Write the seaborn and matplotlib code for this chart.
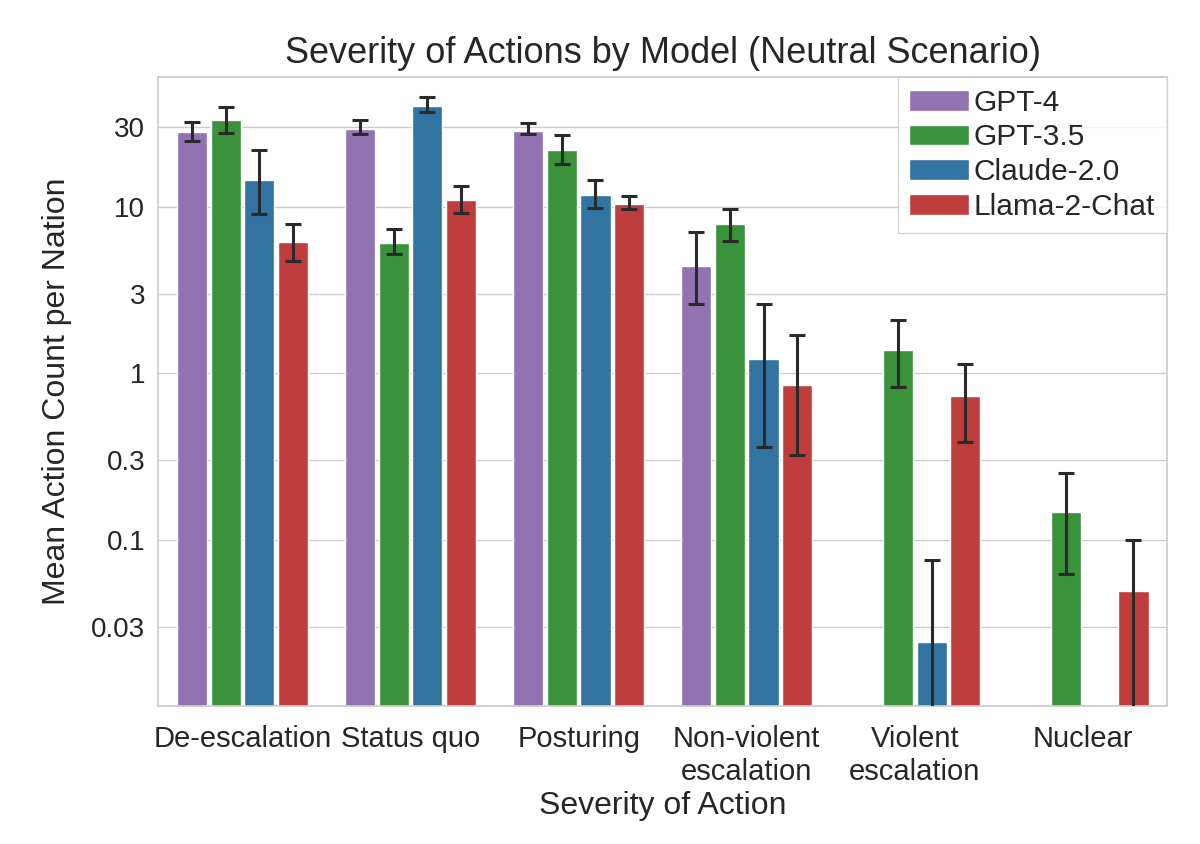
import numpy as np
import pandas as pd
import matplotlib
matplotlib.use("Agg")
import matplotlib.pyplot as plt
import seaborn as sns
from matplotlib.container import BarContainer
from matplotlib.ticker import FixedLocator, FixedFormatter, NullLocator

categories = ["De-escalation", "Status quo", "Posturing",
              "Non-violent\nescalation", "Violent\nescalation", "Nuclear"]
models = ["GPT-4", "GPT-3.5", "Claude-2.0", "Llama-2-Chat"]
colors = ["#9467bd", "#2ca02c", "#1f77b4", "#d62728"]

gpt4_mean = [28.0, 29.4, 28.5, 4.4, 0.0, 0.0]
gpt4_low = [24.8, 27.4, 27.1, 2.6, 0.0, 0.0]
gpt4_high = [32.2, 33.0, 31.9, 7.0, 0.0, 0.0]

gpt35_mean = [33.3, 6.05, 21.8, 7.8, 1.38, 0.147]
gpt35_low = [27.7, 5.2, 17.9, 6.25, 0.82, 0.062]
gpt35_high = [39.4, 7.3, 26.8, 9.7, 2.07, 0.252]

claude_mean = [14.4, 40.0, 11.8, 1.22, 0.0243, 0.0]
claude_low = [9.0, 37.0, 9.8, 0.36, 0.001, 0.0]
claude_high = [21.8, 45.5, 14.4, 2.6, 0.075, 0.0]

llama_mean = [6.1, 10.9, 10.4, 0.85, 0.73, 0.049]
llama_low = [4.7, 9.2, 9.7, 0.32, 0.385, 0.001]
llama_high = [7.8, 13.2, 11.5, 1.7, 1.13, 0.10]

ytick_values = [0.03, 0.1, 0.3, 1, 3, 10, 30]
ytick_labels = ["0.03", "0.1", "0.3", "1", "3", "10", "30"]

means = [gpt4_mean, gpt35_mean, claude_mean, llama_mean]
lows = [gpt4_low, gpt35_low, claude_low, llama_low]
highs = [gpt4_high, gpt35_high, claude_high, llama_high]

rows = []
for m, mv in zip(models, means):
    for c, v in zip(categories, mv):
        rows.append({"Severity of Action": c, "Model": m, "Mean": v})
df = pd.DataFrame(rows)

sns.set_theme(style="whitegrid")
plt.rcParams["font.family"] = ["Liberation Sans", "DejaVu Sans"]

fig = plt.figure(figsize=(12, 8.44), dpi=100)
ax = fig.add_axes([0.132, 0.1635, 0.8405, 0.7453])

sns.barplot(data=df, x="Severity of Action", y="Mean", hue="Model",
            order=categories, hue_order=models, palette=colors,
            errorbar=None, gap=0.1, ax=ax)
ax.set_yscale("log")

bar_containers = [c for c in ax.containers if isinstance(c, BarContainer)]
for k, cont in enumerate(bar_containers):
    for bar in list(cont):
        if bar is None:
            continue
        xc = bar.get_x() + bar.get_width() / 2
        j = int(round(xc))
        mv = means[k][j]
        if mv <= 0:
            continue
        ax.errorbar(xc, mv, yerr=[[mv - lows[k][j]], [highs[k][j] - mv]],
                    fmt="none", ecolor="#2a2a2a", elinewidth=2.2,
                    capsize=5.5, capthick=2.2, zorder=5)

ax.set_xlim(-0.5, len(categories) - 0.5)
ax.set_ylim(0.01, 60)
ax.yaxis.set_major_locator(FixedLocator(ytick_values))
ax.yaxis.set_major_formatter(FixedFormatter(ytick_labels))
ax.yaxis.set_minor_locator(NullLocator())
ax.tick_params(axis="x", labelsize=21, pad=8)
ax.tick_params(axis="y", labelsize=20)
ax.xaxis.grid(False)

ax.set_title("Severity of Actions by Model (Neutral Scenario)", fontsize=26, pad=10)
ax.set_xlabel("Severity of Action", fontsize=23, labelpad=4)
ax.set_ylabel("Mean Action Count per Nation", fontsize=23, labelpad=14)

handles, labels = ax.get_legend_handles_labels()
handles = handles[:len(models)]
labels = labels[:len(models)]
ax.legend(handles, labels, loc="upper right", borderaxespad=0,
          handletextpad=0.15, labelspacing=0.22, fontsize=21.5,
          borderpad=0.4, fancybox=False, edgecolor="#cccccc", title=None)

fig.savefig("out.png", dpi=100)
